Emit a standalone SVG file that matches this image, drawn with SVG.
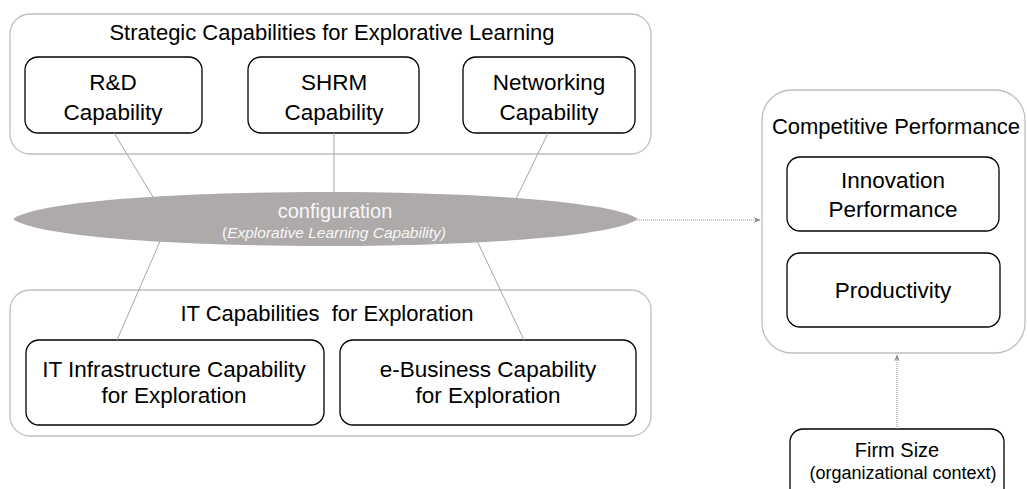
<svg xmlns="http://www.w3.org/2000/svg" width="1027" height="489" viewBox="0 0 1027 489">
<defs>
<style>
.outer{fill:#fff;stroke:#bfbfbf;stroke-width:1.3}
.inner{fill:#fff;stroke:#000;stroke-width:1.3}
.t{font-family:"Liberation Sans",Arial,sans-serif;fill:#000;text-anchor:middle}
.lbl{font-size:22.5px}
.ttl{font-size:22px}
.conn{stroke:#a6a6a6;stroke-width:1;fill:none}
.dot{stroke:#8c8c8c;stroke-width:1;stroke-dasharray:1 1;fill:none}
.wt{fill:#f7f7f7}
</style>
<marker id="ah" viewBox="0 0 10 10" refX="9" refY="5" markerWidth="7" markerHeight="7" orient="auto" markerUnits="userSpaceOnUse">
<path d="M0,1 L10,5 L0,9 L3,5 Z" fill="#8c8c8c"/>
</marker>
</defs>
<rect width="1027" height="489" fill="#fff"/>
<g id="strategic-group">
<rect class="outer" x="10" y="14" width="641" height="140" rx="20"/>
<text class="t ttl" x="332" y="40">Strategic Capabilities for Explorative Learning</text>
</g>
<g id="rd">
<rect class="inner" x="25" y="57" width="177" height="76" rx="13"/>
<text class="t lbl" x="113" y="90">R&amp;D</text>
<text class="t lbl" x="113" y="120">Capability</text>
</g>
<g id="shrm">
<rect class="inner" x="248" y="57" width="171" height="76" rx="13"/>
<text class="t lbl" x="334" y="90">SHRM</text>
<text class="t lbl" x="334" y="120">Capability</text>
</g>
<g id="networking">
<rect class="inner" x="463" y="57" width="172" height="76" rx="13"/>
<text class="t lbl" x="549" y="90">Networking</text>
<text class="t lbl" x="549" y="120">Capability</text>
</g>
<g id="it-group">
<rect class="outer" x="10" y="290" width="641" height="146" rx="20"/>
<text class="t ttl" x="327" y="321">IT Capabilities&#160; for Exploration</text>
</g>
<g id="it-infra">
<rect class="inner" x="26" y="340" width="298" height="85" rx="13"/>
<text class="t lbl" x="174" y="377">IT Infrastructure Capability</text>
<text class="t lbl" x="174" y="403">for Exploration</text>
</g>
<g id="ebusiness">
<rect class="inner" x="340" y="340" width="296" height="85" rx="13"/>
<text class="t lbl" x="488" y="377">e-Business Capability</text>
<text class="t lbl" x="488" y="403">for Exploration</text>
</g>
<g id="competitive">
<rect class="outer" x="762" y="90" width="263" height="263" rx="30"/>
<text class="t ttl" x="896" y="134">Competitive Performance</text>
</g>
<g id="innovation">
<rect class="inner" x="787" y="157" width="212" height="74" rx="13"/>
<text class="t lbl" x="893" y="188">Innovation</text>
<text class="t lbl" x="893" y="217">Performance</text>
</g>
<g id="productivity">
<rect class="inner" x="787" y="253" width="213" height="74" rx="13"/>
<text class="t lbl" x="893" y="298">Productivity</text>
</g>
<g id="firm-size">
<rect class="inner" x="790" y="429" width="214" height="80" rx="13"/>
<text class="t" x="897" y="457" font-size="20">Firm Size</text>
<text class="t" x="903" y="479" font-size="18">(organizational context)</text>
</g>
<g id="connectors">
<line class="conn" x1="114" y1="133" x2="158" y2="205"/>
<line class="conn" x1="334" y1="133" x2="334" y2="205"/>
<line class="conn" x1="548" y1="133" x2="513" y2="205"/>
<line class="conn" x1="165" y1="230" x2="117" y2="340"/>
<line class="conn" x1="472" y1="230" x2="524" y2="340"/>
<line class="dot" x1="637" y1="220" x2="760" y2="220" marker-end="url(#ah)"/>
<line class="dot" x1="897" y1="429" x2="897" y2="355" marker-end="url(#ah)"/>
</g>
<g id="configuration">
<path d="M13,219 C60,183 590,183 638,219 C590,255 60,255 13,219 Z" fill="#aeaaaa"/>
<text class="t wt" x="335" y="218" font-size="20">configuration</text>
<text class="t wt" x="334" y="238" font-size="15.5">(<tspan font-style="italic">Explorative Learning Capability)</tspan></text>
</g>
</svg>
